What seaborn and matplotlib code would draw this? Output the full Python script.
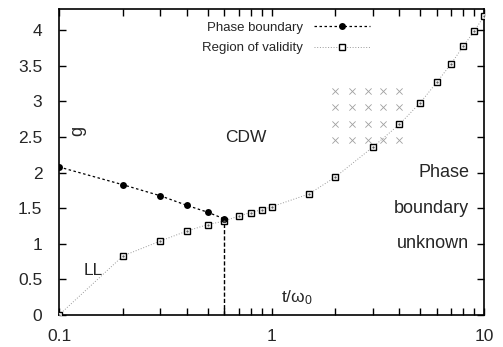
import matplotlib
matplotlib.use("Agg")
import matplotlib.pyplot as plt
import seaborn as sns
import numpy as np

# --- Data ---
pb_t = [0.1, 0.2, 0.3, 0.4, 0.5, 0.6]
pb_g = [2.08, 1.83, 1.675, 1.54, 1.445, 1.35]

val_t = [0.1, 0.2, 0.3, 0.4, 0.5, 0.6, 0.7, 0.8, 0.9, 1.0, 1.5, 2.0,
         3.0, 4.0, 5.0, 6.0, 7.0, 8.0, 9.0, 10.0]
val_g = [0.0, 0.83, 1.04, 1.18, 1.27, 1.32, 1.39, 1.44, 1.48, 1.52, 1.70, 1.94,
         2.36, 2.68, 2.98, 3.27, 3.53, 3.78, 3.99, 4.2]

cross_t = [2.0, 2.38, 2.83, 3.36, 4.0]
cross_g = [3.15, 2.92, 2.69, 2.46]

y_ticks = [0, 0.5, 1, 1.5, 2, 2.5, 3, 3.5, 4]
y_labels = ["0", "0.5", "1", "1.5", "2", "2.5", "3", "3.5", "4"]
x_ticks = [0.1, 1, 10]
x_labels = ["0.1", "1", "10"]

sns.set_style("ticks")
plt.rcParams['font.family'] = ['Liberation Sans', 'DejaVu Sans']

fig = plt.figure(figsize=(5.03, 3.47), dpi=100)
ax = fig.add_axes([0.1173, 0.0922, 0.845, 0.882])

# crosses region
ct, cg = np.meshgrid(cross_t, cross_g)
sns.scatterplot(x=ct.ravel(), y=cg.ravel(), marker='x', color='#a0a0a0',
                s=20, linewidth=0.6, ax=ax, legend=False, zorder=2)

# vertical dashed line at the crossing point
ax.plot([pb_t[-1], pb_t[-1]], [0, pb_g[-1]], color='black', lw=1.0,
        ls=(0, (3, 1.5)), zorder=3)

sns.lineplot(x=pb_t, y=pb_g, ax=ax, sort=False, color='black', lw=0.9,
             ls=(0, (2, 2)), marker='o', markersize=5, markeredgewidth=0,
             label='Phase boundary', zorder=5)
sns.lineplot(x=val_t, y=val_g, ax=ax, sort=False, color='#9a9a9a', lw=0.7,
             ls=(0, (1, 1.8)), marker='s', markersize=4.5, mfc='white',
             mec='black', markeredgewidth=1.0, label='Region of validity',
             zorder=4)
# centre dot of the square markers
ax.plot(val_t, val_g, ls='none', marker='.', markersize=1.2, color='#555555',
        zorder=6)

ax.set_xscale('log')
ax.set_xlim(0.1, 10)
ax.set_ylim(0, 4.3)
ax.set_xticks(x_ticks)
ax.set_xticklabels(x_labels)
ax.set_yticks(y_ticks)
ax.set_yticklabels(y_labels)
ax.tick_params(which='both', direction='in', top=True, right=True,
               labelsize=12.5, width=1.0, color='black')
ax.tick_params(which='major', length=5)
ax.tick_params(axis='y', pad=12)
ax.tick_params(axis='x', pad=10)
ax.tick_params(which='minor', length=5)
ax.set_xlabel("")
ax.set_ylabel("")
for sp in ax.spines.values():
    sp.set_linewidth(1.2)
    sp.set_color('black')

# legend: text on the left, sample on the right, no frame
leg = ax.legend(loc='upper right', bbox_to_anchor=(0.745, 0.975),
                frameon=False, markerfirst=False, fontsize=9.5,
                handlelength=4.3, labelspacing=0.6, handletextpad=0.8,
                borderaxespad=0)

# annotations
ax.text(0.1 * 10 ** 0.09, 2.58, "g", fontsize=13, rotation=90,
        ha='center', va='center')
ax.text(0.1 * 10 ** 0.88, 2.5, "CDW", fontsize=12.5, ha='center', va='center')
ax.text(0.1 * 10 ** 0.16, 0.63, "LL", fontsize=12.5, ha='center', va='center')
ax.text(10 ** 0.93, 2.0, "Phase", fontsize=13, ha='right', va='center')
ax.text(10 ** 0.93, 1.5, "boundary", fontsize=13, ha='right', va='center')
ax.text(10 ** 0.93, 1.0, "unknown", fontsize=13, ha='right', va='center')
ax.text(10 ** 0.12, 0.25, r"t/$\mathregular{\omega_0}$", fontsize=12.5,
        ha='center', va='center')

fig.savefig("out.png", dpi=100)
